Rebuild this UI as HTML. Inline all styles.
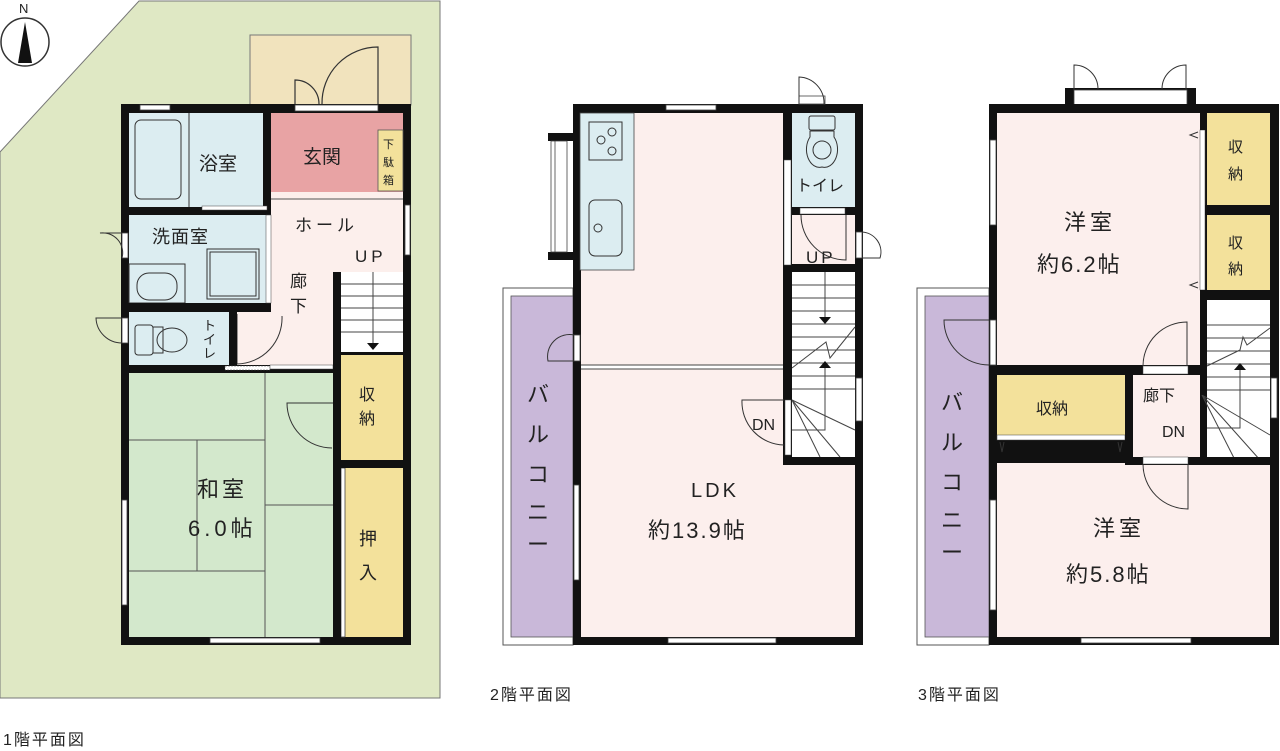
<!DOCTYPE html>
<html><head><meta charset="utf-8"><style>
html,body{margin:0;padding:0;background:#fff;width:1280px;height:751px;overflow:hidden}
svg{display:block}
text{font-family:"Liberation Sans","Noto Sans CJK JP",sans-serif;fill:#222}
</style></head><body>
<svg width="1280" height="751" viewBox="0 0 1280 751" xmlns="http://www.w3.org/2000/svg">
<!-- ===== FLOOR 1 ===== -->
<polygon points="0,152 139,1 440,1 440,698 0,698" fill="#dfe8c4" stroke="#777" stroke-width="1"/>
<circle cx="25" cy="42" r="24" fill="#fff" stroke="#333" stroke-width="1.5"/>
<polygon points="25,22 18,63 32,63" fill="#111"/>
<text x="19" y="13" font-size="13">N</text>
<rect x="250" y="35" width="161" height="70" fill="#f1e3bd" stroke="#777"/>
<path d="M295,105 V80 A24,24 0 0 1 319,104 M378,105 V47 A56,56 0 0 0 322,104" fill="none" stroke="#333" stroke-width="1.2"/>
<rect x="121" y="104" width="290" height="541" fill="#111"/>
<rect x="129" y="113" width="134" height="94" fill="#dcedf1"/>
<rect x="135" y="120" width="46" height="79" rx="6" fill="#dcedf1" stroke="#333"/>
<line x1="189" y1="113" x2="189" y2="207" stroke="#333"/>
<rect x="271" y="113" width="132" height="79" fill="#e8a3a4"/>
<rect x="378" y="130" width="25" height="61" fill="#f3e19b" stroke="#555" stroke-width="0.8"/>
<rect x="271" y="192" width="132" height="180" fill="#fcefec"/>
<line x1="271" y1="199" x2="403" y2="199" stroke="#555"/>
<rect x="129" y="215" width="137" height="88" fill="#dcedf1"/>
<rect x="129" y="264" width="56" height="39" fill="#dcedf1" stroke="#333"/>
<rect x="137" y="273" width="40" height="27" rx="12" fill="#dcedf1" stroke="#333"/>
<rect x="207" y="249" width="52" height="50" fill="#dcedf1" stroke="#333"/>
<rect x="210" y="252" width="46" height="44" fill="none" stroke="#333"/>
<rect x="129" y="312" width="100" height="53" fill="#dcedf1"/>
<rect x="135" y="325" width="18" height="30" rx="3" fill="#dcedf1" stroke="#333"/>
<rect x="153" y="327" width="10" height="26" fill="none" stroke="#333"/>
<ellipse cx="172" cy="340" rx="15" ry="12" fill="none" stroke="#333"/>
<rect x="237" y="312" width="34" height="53" fill="#fcefec"/>
<path d="M237,314 V364 A46,46 0 0 0 282,316" fill="none" stroke="#333"/>
<rect x="341" y="272" width="62" height="80" fill="#fff"/>
<g stroke="#444" stroke-width="1">
<line x1="341" y1="284" x2="403" y2="284"/><line x1="341" y1="296" x2="403" y2="296"/><line x1="341" y1="308" x2="403" y2="308"/><line x1="341" y1="320" x2="403" y2="320"/><line x1="341" y1="332" x2="403" y2="332"/>
<line x1="373" y1="272" x2="373" y2="345"/></g>
<polygon points="367,343 379,343 373,350" fill="#111"/>
<rect x="341" y="355" width="62" height="105" fill="#f3e19b"/>
<rect x="341" y="468" width="62" height="169" fill="#f3e19b"/>
<rect x="341" y="468" width="4" height="169" fill="#fff" stroke="#444" stroke-width="0.8"/>
<rect x="129" y="373" width="204" height="264" fill="#d3e8cc"/>
<g stroke="#555" stroke-width="1" fill="none">
<line x1="265" y1="373" x2="265" y2="637"/>
<line x1="129" y1="440" x2="265" y2="440"/>
<line x1="129" y1="571" x2="265" y2="571"/>
<line x1="197" y1="440" x2="197" y2="571"/>
<line x1="265" y1="505" x2="333" y2="505"/>
</g>
<path d="M333,403 H287 A45,45 0 0 0 332,448" fill="none" stroke="#333"/>
<rect x="333" y="403" width="8" height="45" fill="#fff"/>
<rect x="263" y="104" width="8" height="100" fill="#111"/>
<rect x="121" y="207" width="150" height="8" fill="#111"/>
<rect x="121" y="303" width="150" height="9" fill="#111"/>
<rect x="266" y="215" width="5" height="88" fill="#fff" stroke="#444" stroke-width="0.5"/>
<rect x="229" y="312" width="8" height="53" fill="#111"/>
<rect x="121" y="365" width="220" height="8" fill="#111"/>
<rect x="225" y="366" width="45" height="4" fill="#fff" stroke="#444" stroke-width="0.5" stroke-dasharray="2,1"/>
<rect x="270" y="365" width="63" height="4" fill="#fff" stroke="#444" stroke-width="0.5"/>
<rect x="333" y="272" width="8" height="373" fill="#111"/>
<rect x="341" y="352" width="70" height="3" fill="#111"/>
<rect x="333" y="460" width="78" height="8" fill="#111"/>
<rect x="202" y="206" width="65" height="4" fill="#fff" stroke="#444" stroke-width="0.5"/>
<g fill="#fff" stroke="#444" stroke-width="0.8">
<rect x="140" y="105" width="30" height="5"/>
<rect x="295" y="105" width="83" height="6"/>
<rect x="405" y="205" width="5" height="50"/>
<rect x="122" y="233" width="6" height="25"/>
<rect x="122" y="318" width="6" height="25"/>
<rect x="122" y="500" width="5" height="105"/>
<rect x="210" y="638" width="110" height="5"/>
</g>
<path d="M122,233 H100 A20,20 0 0 1 122,258 M122,318 H96 A26,26 0 0 0 122,343" fill="none" stroke="#333"/>
<text x="199" y="170" font-size="19">浴室</text>
<text x="303" y="163" font-size="19">玄関</text>
<text x="383" y="148" font-size="11">下</text><text x="383" y="166" font-size="11">駄</text><text x="383" y="184" font-size="11">箱</text>
<text x="295" y="231" font-size="17" letter-spacing="4">ホール</text>
<text x="355" y="262" font-size="17" letter-spacing="4">UP</text>
<text x="290" y="287" font-size="17">廊</text><text x="290" y="312" font-size="17">下</text>
<text x="152" y="243" font-size="18" letter-spacing="1">洗面室</text>
<text x="203" y="330" font-size="13">ト</text><text x="203" y="344" font-size="13">イ</text><text x="203" y="358" font-size="13">レ</text>
<text x="359" y="400" font-size="16">収</text><text x="359" y="424" font-size="16">納</text>
<text x="359" y="545" font-size="18">押</text><text x="359" y="579" font-size="18">入</text>
<text x="197" y="497" font-size="22" letter-spacing="3">和室</text>
<text x="188" y="536" font-size="22" letter-spacing="4">6.0帖</text>
<text x="3" y="745" font-size="16" letter-spacing="2">1階平面図</text>

<!-- ===== FLOOR 2 ===== -->
<rect x="503" y="288" width="70" height="357" fill="#fff" stroke="#555"/>
<rect x="511" y="296" width="62" height="341" fill="#c9b8d9" stroke="#555" stroke-width="0.8"/>
<rect x="548" y="133" width="28" height="8" fill="#111"/>
<rect x="548" y="252" width="28" height="8" fill="#111"/>
<rect x="551" y="141" width="16" height="111" fill="#fff" stroke="#444" stroke-width="0.8"/>
<line x1="555" y1="141" x2="555" y2="252" stroke="#444" stroke-width="0.8"/>
<rect x="573" y="104" width="290" height="541" fill="#111"/>
<rect x="581" y="113" width="202" height="524" fill="#fcefed"/>
<rect x="581" y="463" width="274" height="174" fill="#fcefed"/>
<rect x="580" y="113" width="54" height="157" fill="#dcedf1" stroke="#444" stroke-width="0.8"/>
<rect x="589" y="122" width="33" height="38" fill="#dcedf1" stroke="#333"/>
<circle cx="601" cy="140" r="4" fill="none" stroke="#333"/><circle cx="612" cy="132" r="4" fill="none" stroke="#333"/><circle cx="612" cy="151" r="4" fill="none" stroke="#333"/>
<rect x="589" y="200" width="33" height="56" rx="6" fill="#dcedf1" stroke="#333"/>
<circle cx="598" cy="228" r="4" fill="none" stroke="#333"/>
<line x1="581" y1="367" x2="783" y2="367" stroke="#444" stroke-width="5"/>
<line x1="581" y1="367" x2="783" y2="367" stroke="#fff" stroke-width="3"/>
<rect x="792" y="113" width="63" height="94" fill="#dcedf1"/>
<rect x="809" y="116" width="26" height="14" rx="2" fill="#dcedf1" stroke="#333"/>
<path d="M810,131 h24 v6 a13,18 0 0 1 -12,30 a13,18 0 0 1 -12,-30 z" fill="#dcedf1" stroke="#333"/>
<ellipse cx="822" cy="150" rx="9" ry="9" fill="none" stroke="#333"/>
<rect x="792" y="215" width="63" height="57" fill="#fcefed"/>
<path d="M801,215 A45,45 0 0 0 846,260 V215" fill="none" stroke="#333"/>
<rect x="792" y="272" width="63" height="185" fill="#fff"/>
<g stroke="#444" stroke-width="1" fill="none">
<line x1="792" y1="285" x2="855" y2="285"/><line x1="792" y1="298" x2="855" y2="298"/><line x1="792" y1="311" x2="855" y2="311"/><line x1="792" y1="324" x2="855" y2="324"/><line x1="792" y1="337" x2="855" y2="337"/><line x1="792" y1="350" x2="855" y2="350"/><line x1="792" y1="363" x2="855" y2="363"/><line x1="792" y1="376" x2="855" y2="376"/><line x1="792" y1="389" x2="855" y2="389"/>
<line x1="825" y1="272" x2="825" y2="318"/>
<polyline points="825,368 825,430 792,430"/>
<polyline points="792,368 826,342 830,358 855,327"/>
<line x1="792" y1="400" x2="855" y2="430"/><line x1="792" y1="400" x2="840" y2="457"/><line x1="792" y1="400" x2="820" y2="457"/>
</g>
<polygon points="819,317 831,317 825,324" fill="#111"/>
<polygon points="819,368 831,368 825,361" fill="#111"/>
<rect x="783" y="104" width="9" height="360" fill="#111"/>
<rect x="783" y="207" width="80" height="8" fill="#111"/>
<rect x="792" y="264" width="63" height="8" fill="#111"/>
<rect x="783" y="457" width="80" height="8" fill="#111"/>
<rect x="800" y="208" width="45" height="6" fill="#fff" stroke="#444" stroke-width="0.5"/>
<rect x="784" y="160" width="7" height="105" fill="#fff" stroke="#444" stroke-width="0.5"/>
<rect x="785" y="400" width="6" height="55" fill="#fff" stroke="#444" stroke-width="0.5"/>
<path d="M784,400 H742 A43,43 0 0 0 784,445" fill="none" stroke="#333"/>
<g fill="#fff" stroke="#444" stroke-width="0.8">
<rect x="666" y="105" width="50" height="5"/>
<rect x="799" y="96" width="26" height="8"/>
<rect x="856" y="232" width="6" height="26"/>
<rect x="856" y="378" width="6" height="43"/>
<rect x="574" y="335" width="6" height="26"/>
<rect x="574" y="485" width="5" height="95"/>
<rect x="668" y="638" width="108" height="5"/>
</g>
<path d="M799,104 V77 A26,26 0 0 1 824,104 M862,232 A20,20 0 0 1 880,258 H862 M574,335 A22,22 0 0 0 548,361 H574" fill="none" stroke="#333"/>
<text x="796" y="191" font-size="16">トイレ</text>
<text x="806" y="263" font-size="17" letter-spacing="3">UP</text>
<text x="752" y="430" font-size="16">DN</text>
<text x="691" y="497" font-size="20" letter-spacing="3">LDK</text>
<text x="648" y="538" font-size="22" letter-spacing="2">約13.9帖</text>
<text x="527" y="402" font-size="22">バ</text><text x="527" y="442" font-size="22">ル</text><text x="527" y="482" font-size="22">コ</text><text x="527" y="520" font-size="22">ニ</text><text x="527" y="552" font-size="22">ー</text>
<text x="490" y="700" font-size="16" letter-spacing="2">2階平面図</text>

<!-- ===== FLOOR 3 ===== -->
<rect x="917" y="288" width="72" height="357" fill="#fff" stroke="#555"/>
<rect x="925" y="296" width="64" height="341" fill="#c9b8d9" stroke="#555" stroke-width="0.8"/>
<rect x="1065" y="88" width="131" height="20" fill="#111"/>
<rect x="1074" y="90" width="113" height="15" fill="#fff" stroke="#444" stroke-width="0.8"/>
<path d="M1074,90 V65 A24,24 0 0 1 1098,89 M1186,90 V65 A24,24 0 0 0 1162,89" fill="none" stroke="#333"/>
<rect x="989" y="104" width="290" height="541" fill="#111"/>
<rect x="997" y="113" width="203" height="252" fill="#fcefed"/>
<rect x="997" y="463" width="273" height="174" fill="#fcefed"/>
<rect x="1207" y="113" width="63" height="92" fill="#f3e19b"/>
<rect x="1207" y="215" width="63" height="75" fill="#f3e19b"/>
<rect x="1200" y="130" width="5" height="160" fill="#fff" stroke="#444" stroke-width="0.5"/>
<rect x="997" y="375" width="128" height="60" fill="#f3e19b"/>
<rect x="997" y="435" width="128" height="5" fill="#fff" stroke="#444" stroke-width="0.5"/>
<rect x="1133" y="375" width="67" height="85" fill="#fcefed"/>
<rect x="1207" y="300" width="63" height="160" fill="#fff"/>
<g stroke="#444" stroke-width="1" fill="none">
<line x1="1207" y1="325" x2="1270" y2="325"/><line x1="1207" y1="338" x2="1270" y2="338"/><line x1="1207" y1="351" x2="1270" y2="351"/><line x1="1207" y1="364" x2="1270" y2="364"/><line x1="1207" y1="377" x2="1270" y2="377"/><line x1="1207" y1="390" x2="1270" y2="390"/>
<polyline points="1207,366 1240,350 1243,337 1247,345 1270,328"/>
<polyline points="1240,370 1240,428 1207,428"/>
<line x1="1202" y1="395" x2="1270" y2="435"/><line x1="1202" y1="395" x2="1235" y2="460"/><line x1="1202" y1="395" x2="1260" y2="460"/>
</g>
<polygon points="1234,370 1246,370 1240,363" fill="#111"/>
<rect x="1200" y="104" width="7" height="26" fill="#111"/>
<rect x="1200" y="290" width="7" height="105" fill="#111"/>
<rect x="1205" y="205" width="74" height="10" fill="#111"/>
<rect x="1205" y="290" width="74" height="10" fill="#111"/>
<rect x="989" y="365" width="218" height="10" fill="#111"/>
<rect x="1125" y="375" width="8" height="90" fill="#111"/>
<rect x="1125" y="457" width="154" height="8" fill="#111"/>
<rect x="1143" y="457" width="45" height="7" fill="#fff" stroke="#444" stroke-width="0.5"/>
<rect x="1143" y="366" width="45" height="8" fill="#fff" stroke="#444" stroke-width="0.5"/>
<path d="M1143,366 A44,44 0 0 1 1187,322 V366 M1143,464 A45,45 0 0 0 1188,509 V464" fill="none" stroke="#333"/>
<g fill="#fff" stroke="#444" stroke-width="0.8">
<rect x="990" y="140" width="6" height="85"/>
<rect x="990" y="320" width="6" height="45"/>
<rect x="990" y="500" width="6" height="110"/>
<rect x="1271" y="378" width="6" height="40"/>
<rect x="1081" y="638" width="110" height="5"/>
</g>
<path d="M989,320 H944 A45,45 0 0 0 989,365" fill="none" stroke="#333"/>
<path d="M1198,132 l-8,3 l8,3 M1198,282 l-8,3 l8,3 M1000,442 l2,10 l2,-10 M1118,442 l2,10 l2,-10" fill="none" stroke="#333"/>
<text x="1228" y="152" font-size="15">収</text><text x="1228" y="179" font-size="15">納</text>
<text x="1228" y="248" font-size="15">収</text><text x="1228" y="274" font-size="15">納</text>
<text x="1064" y="230" font-size="22" letter-spacing="4">洋室</text>
<text x="1037" y="272" font-size="22" letter-spacing="2">約6.2帖</text>
<text x="1036" y="414" font-size="16">収納</text>
<text x="1143" y="401" font-size="16">廊下</text>
<text x="1162" y="437" font-size="16">DN</text>
<text x="1093" y="536" font-size="22" letter-spacing="4">洋室</text>
<text x="1066" y="582" font-size="22" letter-spacing="2">約5.8帖</text>
<text x="941" y="410" font-size="22">バ</text><text x="941" y="450" font-size="22">ル</text><text x="941" y="490" font-size="22">コ</text><text x="941" y="528" font-size="22">ニ</text><text x="941" y="560" font-size="22">ー</text>
<text x="918" y="700" font-size="16" letter-spacing="2">3階平面図</text>
</svg>
</body></html>
